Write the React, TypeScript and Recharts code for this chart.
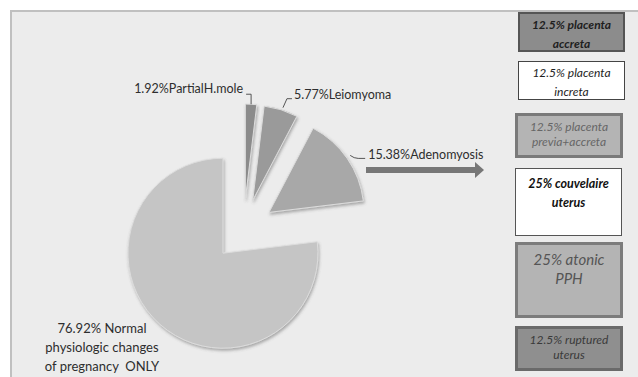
import { PieChart, Pie, Cell } from "recharts";

// pie: share of cases (%)
const sliceNames = [
  "PartialH.mole",
  "Leiomyoma",
  "Adenomyosis",
  "Normal physiologic changes of pregnancy ONLY",
];
const sliceValues = [1.92, 5.77, 15.38, 76.92];
const sliceColors = ["#8b8b8b", "#9a9a9a", "#a8a8a8", "#c5c5c5"];

// breakdown of the adenomyosis group (%)
const breakdownNames = [
  "placenta accreta",
  "placenta increta",
  "placenta previa+accreta",
  "couvelaire uterus",
  "atonic PPH",
  "ruptured uterus",
];
const breakdownValues = [12.5, 12.5, 12.5, 25, 25, 12.5];

const W = 638;
const H = 377;
const CX = 238.5;
const CY = 225;
const R = 95;
const EXPLODE = 31;

const rad = (deg: number) => (deg * Math.PI) / 180;

// mid angle of every slice, clockwise from 12 o'clock (same as the Pie below)
const total = sliceValues.reduce((a, b) => a + b, 0);
const midAngles: number[] = [];
{
  let start = 90;
  sliceValues.forEach((v) => {
    const span = (v / total) * 360;
    midAngles.push(start - span / 2);
    start -= span;
  });
}
const explode = (mid: number) => [
  EXPLODE * Math.cos(rad(mid)),
  -EXPLODE * Math.sin(rad(mid)),
];

const labelFont = "Lato, 'Open Sans', sans-serif";

function SliceLabel(props: any) {
  const { cx, cy, outerRadius, index } = props;
  const mid = midAngles[index];
  const [ox, oy] = explode(mid);
  const ax = cx + ox + outerRadius * Math.cos(rad(mid));
  const ay = cy + oy - outerRadius * Math.sin(rad(mid));
  const text = `${sliceValues[index]}%${sliceNames[index]}`;
  const common = { fill: "#2e2e2e", fontSize: 12.5, fontFamily: labelFont };

  if (index === 0) {
    return (
      <g>
        <path d={`M${ax},${ay} L${ax},${ay - 10} L${ax - 5},${ay - 10}`} stroke="#555" fill="none" />
        <text x={ax - 8} y={ay - 11} textAnchor="end" {...common}>
          {text}
        </text>
      </g>
    );
  }
  if (index === 1) {
    return (
      <g>
        <path d={`M${ax + 2},${ay - 2} L${ax + 6},${ay - 11} L${ax + 11},${ay - 11}`} stroke="#555" fill="none" />
        <text x={ax + 13} y={ay - 11} textAnchor="start" {...common}>
          {text}
        </text>
      </g>
    );
  }
  if (index === 2) {
    return (
      <g>
        <path d={`M${ax + 3},${ay - 3} Q${ax + 7},${ay} ${ax + 11},${ay} L${ax + 18},${ay}`} stroke="#555" fill="none" />
        <text x={ax + 21} y={ay + 1} textAnchor="start" {...common}>
          {text}
        </text>
      </g>
    );
  }
  const lines = [
    `${sliceValues[index]}% Normal`,
    "physiologic changes",
    "of pregnancy  ONLY",
  ];
  return (
    <text x={ax - 58} y={ay + 9} textAnchor="middle" {...common} fontSize={13}>
      {lines.map((l, i) => (
        <tspan key={i} x={ax - 58} dy={i === 0 ? 0 : 19} style={{ whiteSpace: "pre" }}>
          {l}
        </tspan>
      ))}
    </text>
  );
}

const boxStyles: React.CSSProperties[] = [
  { top: 12, height: 40, left: 518, width: 107, background: "#8c8c8c", border: "2px solid #555", color: "#1e1e1e", fontWeight: 700, fontSize: 12, lineHeight: "19px", paddingTop: 1 },
  { top: 61, height: 39, left: 518, width: 107, background: "#ffffff", border: "1.5px solid #444", color: "#1e1e1e", fontWeight: 400, fontSize: 12, lineHeight: "19px", paddingTop: 1 },
  { top: 113, height: 45, left: 515, width: 108, background: "#b4b4b4", border: "3px solid #7a7a7a", color: "#666", fontWeight: 400, fontSize: 12, lineHeight: "15px", paddingTop: 3 },
  { top: 168, height: 68, left: 515, width: 107, background: "#ffffff", border: "1px solid #555", color: "#111", fontWeight: 700, fontSize: 12.5, lineHeight: "19px", paddingTop: 5 },
  { top: 242, height: 76, left: 515, width: 108, background: "#b4b4b4", border: "3px solid #7c7c7c", color: "#555", fontWeight: 400, fontSize: 15, lineHeight: "19px", paddingTop: 5 },
  { top: 326, height: 45, left: 515, width: 108, background: "#8f8f8f", border: "3px solid #6a6a6a", color: "#3a3a3a", fontWeight: 400, fontSize: 12, lineHeight: "15px", paddingTop: 3 },
];

export default function App() {
  const data = sliceNames.map((name, i) => ({ name, value: sliceValues[i] }));

  return (
    <div style={{ position: "absolute", left: 0, top: 0, width: W, height: H, background: "#fff", overflow: "hidden" }}>
      {/* chart frame */}
      <div
        style={{
          position: "absolute",
          left: 10,
          top: 10,
          width: W - 10,
          height: H - 10,
          background: "#ececec",
          borderTop: "2px solid #c0c0c0",
          borderLeft: "2px solid #c0c0c0",
          boxSizing: "border-box",
        }}
      />

      <svg width={W} height={H} style={{ position: "absolute", left: 0, top: 0 }}>
        <defs>
          <filter id="sliceShadow" x="-20%" y="-20%" width="140%" height="140%">
            <feDropShadow dx="1" dy="2" stdDeviation="1.6" floodColor="#555" floodOpacity="0.45" />
          </filter>
        </defs>
        {/* arrow to the breakdown */}
        <rect x={366} y={167} width={110} height={6} fill="#777" />
        <path d="M475,162 L484,170 L475,178 Z" fill="#777" />
      </svg>

      <div style={{ position: "absolute", left: 0, top: 0 }}>
        <PieChart width={W} height={H}>
          <Pie
            data={data}
            dataKey="value"
            nameKey="name"
            cx={CX}
            cy={CY}
            outerRadius={R}
            startAngle={90}
            endAngle={-270}
            stroke="#dcdcdc"
            strokeWidth={1}
            label={SliceLabel}
            labelLine={false}
            isAnimationActive={false}
          >
            {data.map((_, i) => {
              const [ox, oy] = explode(midAngles[i]);
              return (
                <Cell
                  key={i}
                  fill={sliceColors[i]}
                  transform={`translate(${ox},${oy})`}
                  filter="url(#sliceShadow)"
                />
              );
            })}
          </Pie>
        </PieChart>
      </div>

      {breakdownNames.map((name, i) => (
        <div
          key={name}
          style={{
            position: "absolute",
            boxSizing: "border-box",
            textAlign: "center",
            fontStyle: "italic",
            fontFamily: labelFont,
            padding: "0 5px",
            overflow: "hidden",
            ...boxStyles[i],
          }}
        >
          {`${breakdownValues[i]}% ${name}`}
        </div>
      ))}
    </div>
  );
}
